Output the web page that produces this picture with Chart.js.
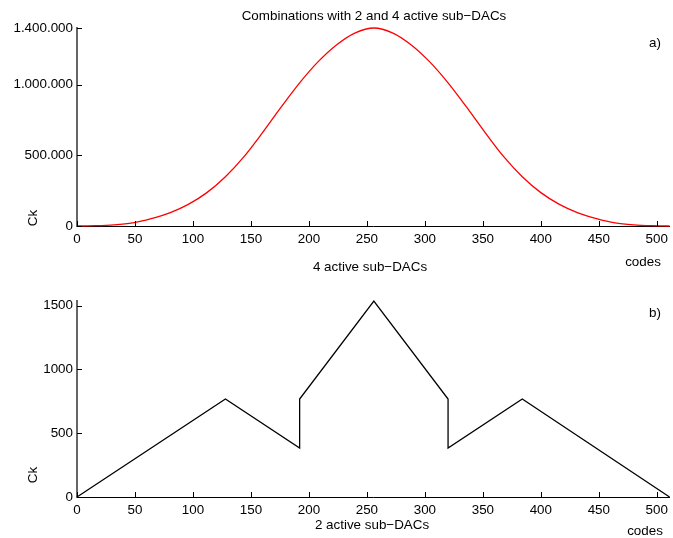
<!DOCTYPE html>
<html>
<head>
<meta charset="utf-8">
<script src="https://cdn.jsdelivr.net/npm/chart.js@4"></script>
<style>
  html, body { margin: 0; padding: 0; background: #fff; }
  body { width: 673px; height: 538px; position: relative; overflow: hidden; }
  .box { position: absolute; left: 0; width: 673px; }
</style>
</head>
<body>
<div class="box" style="top:0;height:275px"><canvas id="topChart"></canvas></div>
<div class="box" style="top:255px;height:283px"><canvas id="bottomChart"></canvas></div>
<script>
// a) combinations with 2 and 4 active sub-DACs
const codesTop = [0, 16, 32, 48, 64, 80, 96, 112, 128, 144, 160, 176, 192, 208, 224, 240, 256,
  272, 288, 304, 320, 336, 352, 368, 384, 400, 416, 432, 448, 464, 480, 496, 511];
const ckTop = [0, 2000, 8000, 22000, 52000, 93000, 153000, 236000, 348000, 490000, 660000, 840000, 1012000, 1162000, 1282000, 1366000, 1400000,
  1366000, 1282000, 1162000, 1012000, 840000, 660000, 490000, 348000, 236000, 153000, 93000, 52000, 22000, 8000, 2000, 0];

// b) 4 active sub-DACs (middle) and 2 active sub-DACs (sides)
const codesBottom = [0, 128, 192, 192, 256, 320, 320, 384, 511];
const ckBottom = [0, 768, 384, 768, 1536, 768, 384, 768, 0];

const xTicks = [0, 50, 100, 150, 200, 250, 300, 350, 400, 450, 500];
const yTicksTop = [0, 500000, 1000000, 1400000];
const yTicksBottom = [0, 500, 1000, 1500];

const FONT = '"Liberation Sans", Arial, Helvetica, sans-serif';
Chart.defaults.font.family = FONT;
Chart.defaults.font.size = 13.4;
Chart.defaults.color = '#000';

function dots(v) {
  return String(v).replace(/\B(?=(\d{3})+(?!\d))/g, '.');
}

// matlab style ticks pointing into the plot
const innerTicks = {
  id: 'innerTicks',
  afterDraw(chart) {
    const ctx = chart.ctx;
    const a = chart.chartArea;
    const xs = chart.scales.x, ys = chart.scales.y;
    ctx.save();
    ctx.strokeStyle = '#000';
    ctx.lineWidth = 1;
    ctx.beginPath();
    xs.ticks.forEach(t => {
      const px = Math.round(xs.getPixelForValue(t.value)) + 0.5;
      ctx.moveTo(px, a.bottom);
      ctx.lineTo(px, a.bottom - 5);
    });
    ys.ticks.forEach(t => {
      const py = Math.round(ys.getPixelForValue(t.value)) + 0.5;
      ctx.moveTo(a.left, py);
      ctx.lineTo(a.left + 5, py);
    });
    ctx.stroke();
    ctx.restore();
  }
};

const notes = {
  id: 'notes',
  afterDraw(chart, args, opts) {
    const ctx = chart.ctx;
    ctx.save();
    ctx.fillStyle = '#000';
    ctx.font = '13.4px ' + FONT;
    ctx.textAlign = 'center';
    ctx.textBaseline = 'middle';
    (opts.items || []).forEach(n => {
      ctx.save();
      ctx.translate(n.x, n.y);
      if (n.rot) ctx.rotate(n.rot);
      ctx.fillText(n.text, 0, 0);
      ctx.restore();
    });
    ctx.restore();
  }
};

function makeChart(id, xs, ys, color, yMax, yTicks, fmt, padTop, xHeight, items, smooth) {
  const points = xs.map((x, i) => ({ x: x, y: ys[i] }));
  return new Chart(document.getElementById(id), {
    type: 'line',
    data: {
      datasets: [{
        data: points,
        borderColor: color,
        borderWidth: 1.3,
        pointRadius: 0,
        fill: false,
        tension: 0,
        cubicInterpolationMode: smooth ? 'monotone' : 'default',
        clip: 4
      }]
    },
    options: {
      responsive: true,
      maintainAspectRatio: false,
      animation: false,
      layout: { padding: { top: padTop, right: 2, left: 0, bottom: 0 } },
      plugins: {
        legend: { display: false },
        tooltip: { enabled: false },
        notes: { items: items }
      },
      scales: {
        x: {
          type: 'linear',
          min: 0,
          max: 511,
          grid: { display: false, drawTicks: false, tickLength: 0 },
          border: { color: '#000', width: 1 },
          ticks: { padding: 5, maxRotation: 0, autoSkip: false },
          afterBuildTicks: s => { s.ticks = xTicks.map(v => ({ value: v })); },
          afterFit: s => { s.height = xHeight; }
        },
        y: {
          min: 0,
          max: yMax,
          grid: { display: false, drawTicks: false, tickLength: 0 },
          border: { color: '#666', width: 2 },
          ticks: { padding: 4, callback: fmt },
          afterBuildTicks: s => { s.ticks = yTicks.map(v => ({ value: v })); },
          afterFit: s => { s.width = 77; }
        }
      }
    },
    plugins: [innerTicks, notes]
  });
}

makeChart('topChart', codesTop, ckTop, '#ff0000', 1400000, yTicksTop, v => dots(v), 28, 49, [
  { text: 'Combinations with 2 and 4 active sub\u2212DACs', x: 374, y: 16 },
  { text: 'a)', x: 655, y: 43 },
  { text: 'Ck', x: 33.5, y: 218, rot: -Math.PI / 2 },
  { text: 'codes', x: 643, y: 262 }
], true);

makeChart('bottomChart', codesBottom, ckBottom, '#000000', 1536, yTicksBottom, v => String(v), 46, 41, [
  { text: '4 active sub\u2212DACs', x: 370, y: 12.5 },
  { text: 'b)', x: 655, y: 58.5 },
  { text: 'Ck', x: 33.5, y: 220, rot: -Math.PI / 2 },
  { text: '2 active sub\u2212DACs', x: 372, y: 270 },
  { text: 'codes', x: 645, y: 276.5 }
], false);
</script>
</body>
</html>
